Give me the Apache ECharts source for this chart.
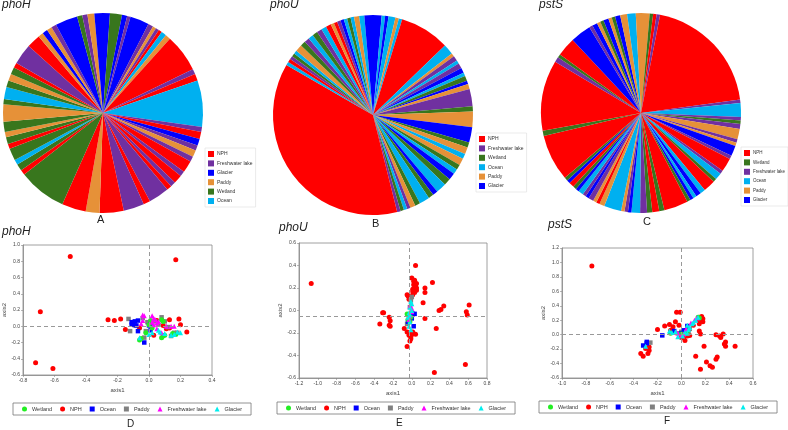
<!DOCTYPE html>
<html>
<head>
<meta charset="utf-8">
<script src="https://cdn.jsdelivr.net/npm/echarts@6/dist/echarts.min.js"></script>
<style>
html,body{margin:0;padding:0;background:#fff;}
#main{width:788px;height:430px;}
</style>
</head>
<body>
<div id="main"></div>
<script>
// clade codes around each tree, clockwise from 12 o'clock, and their arc (degrees)
var phoHClade = ['G','W','G','F','G','F','P','F','N','O','P','N','F','N','O','F','N','G','F','P','F','N','F','N','F','N','F','N','F','N','P','N','W',
                 'N','W','O','W','N','W','P','W','P','W','O','W','P','W','N','F','N','P','G','P','F','G','W','F','P','G'];
var phoHArc = [4,7,3,2,11,3,2,2,2,3,3,22,3,4,27,3,4,4,3,4,3,7,3,5,3,3,12,4,12,14,8,14,28,
               3,4,3,7,3,4,3,6,10,3,7,4,4,4,3,12,8,3,3,3,3,13,3,3,4,5];

var phoUClade = ['G','O','G','O','P','O','N','O','P','F','O','F','G','O','W','G','P','F','W','P','G','W','P','O','P','W','O','G','W','O','G','W','O','W','P','F','O','W','F',
                 'N','O','N','F','W','O','P','W','F','O','W','F','O','N','P','N','F','G','O','W','O','P','O','G'];
var phoUArc = [5,2,2,4,2,2,29,6,2,3,2,3,3,2,3,2,3,10,3,9,9,3,4,3,4,3,3,4,4,6,3,3,6,3,3,2,2,2,2,
               134,2,2,2,2,2,4,3,3,3,3,3,3,3,2,2,2,2,2,2,2,3,3,5];

var pstSClade = ['P','W','N','F','N','F','O','F','W','F','P','F','P','G','F','N','F','O','W','N','O','G','O','G','W','N','W','N','W','F','O','G','F','P','O',
                 'P','N','P','F','G','F','O','G','W','N','G','W','N','W','N','F','W','N','G','F','G','P','W','G','P','W','G','P','O','P'];
var pstSArc = [5,2,2,2,71,2,8,2,2,3,6,2,2,6,2,8,2,4,2,7,3,3,2,2,2,14,3,4,3,4,5,2,2,2,10,
               3,2,2,3,2,2,3,2,2,3,2,2,27,3,41,3,2,11,12,2,3,2,2,3,2,2,3,4,5,3];

// ordination scores [axis1, axis2]
var phoHNPH = [[-0.50,0.86],[0.17,0.82],[-0.69,0.18],[-0.72,-0.45],[-0.61,-0.52],[-0.26,0.08],[-0.22,0.07],[-0.18,0.09],[-0.15,-0.04],[-0.06,-0.02],
               [0.00,0.04],[0.13,0.08],[0.19,0.09],[0.20,0.02],[0.24,-0.07],[0.11,-0.03],[0.13,-0.02],[0.03,-0.11],[0.09,0.01],[0.05,0.07]];
var phoHWetland = [[-0.06,-0.17],[-0.05,-0.15],[0.01,0.07],[0.00,0.02],[-0.02,-0.08],[0.08,0.08],[0.09,0.06],[0.08,-0.14],[0.09,-0.12],[0.10,-0.11],[0.15,-0.09],[0.02,-0.02],[0.17,-0.10]];
var phoHOcean = [[-0.11,0.05],[-0.10,0.03],[-0.09,0.06],[-0.07,0.07],[-0.08,0.01],[-0.07,-0.06],[-0.03,-0.20],[0.01,-0.05],[0.01,0.03],[0.00,0.01],[-0.11,0.02]];
var phoHPaddy = [[-0.13,0.09],[-0.12,-0.06],[-0.09,0.01],[-0.03,-0.14],[0.08,0.11],[0.10,0.06],[0.04,0.06],[-0.01,0.05],[0.14,-0.12],[0.16,-0.08],[0.18,-0.08],[0.06,0.02],[-0.02,-0.06],[0.12,-0.01],[-0.04,0.10]];
var phoHFresh = [[-0.04,0.14],[-0.03,0.13],[-0.04,0.07],[-0.05,0.03],[0.02,0.13],[0.03,0.10],[0.04,0.08],[0.05,0.04],[0.03,0.02],[0.06,0.06],[0.08,-0.08],[0.11,0.00],[0.14,0.00],[0.16,0.00],[0.05,-0.03],[0.02,0.05]];
var phoHGlacier = [[-0.06,-0.14],[0.00,-0.10],[0.06,-0.05],[0.07,-0.07],[0.10,-0.09],[0.16,-0.10],[0.18,-0.07],[0.20,-0.08],[0.14,-0.11],[0.02,-0.08]];

var phoUNPH = [[-1.07,0.24],[0.04,0.40],[0.22,0.25],[0.14,0.20],[0.14,0.16],[0.12,0.07],[0.14,-0.07],[0.34,0.04],[0.29,0.00],[0.31,0.01],[0.26,-0.16],[0.24,-0.55],
               [0.57,-0.48],[0.58,-0.01],[0.61,0.05],[0.59,-0.04],[-0.31,-0.02],[-0.30,-0.02],[-0.34,-0.12],[-0.24,-0.06],[-0.23,-0.09],[-0.24,-0.13],[-0.23,-0.14],
               [-0.05,-0.32],[-0.08,-0.16],[-0.05,-0.19],[0.00,0.29],[0.03,0.27],[0.02,0.23],[0.04,0.21],[0.05,0.18],[0.01,0.17],[0.01,0.14],[-0.02,0.12],[-0.05,0.14],
               [0.05,0.24],[0.02,0.26],[0.04,0.22],[0.01,0.19],[0.05,0.20],[0.03,0.16],[-0.03,0.10],[-0.04,0.13],[0.03,0.25],[-0.02,-0.20],[-0.01,-0.25],[-0.02,-0.27],
               [0.04,-0.21],[0.01,-0.19],[-0.03,-0.22],[0.00,-0.21],[-0.01,-0.23]];
var phoUPaddy = [[0.00,0.12],[-0.01,0.09],[-0.04,-0.11],[-0.03,-0.09],[0.00,-0.02],[-0.05,-0.12],[-0.02,0.03]];
var phoUFresh = [[-0.02,0.04],[0.00,0.02],[-0.03,-0.05],[-0.01,0.06],[-0.03,-0.08],[0.00,-0.01]];
var phoUGlacier = [[-0.01,0.08],[0.00,0.06],[-0.02,0.03],[-0.03,-0.02],[-0.04,-0.06],[-0.02,-0.10],[-0.03,-0.14],[-0.01,-0.17],[-0.02,-0.04],[0.00,0.00]];
var phoUOcean = [[0.01,-0.03],[0.03,-0.03],[0.00,-0.07],[0.02,-0.14],[-0.04,-0.10]];
var phoUWetland = [[-0.05,-0.03],[-0.04,-0.08],[-0.02,-0.10],[-0.01,-0.06]];

var pstSNPH = [[-0.75,0.95],[-0.20,0.07],[-0.14,0.12],[-0.10,0.14],[-0.07,0.11],[-0.04,0.31],[-0.01,0.31],[-0.05,0.18],[-0.02,0.13],[-0.09,0.06],[0.00,-0.04],
               [0.03,-0.08],[0.07,-0.01],[0.10,0.13],[0.15,0.15],[0.17,0.25],[0.18,0.22],[0.15,0.24],[0.14,0.21],[0.18,0.18],[0.15,0.05],[0.16,0.01],[0.19,-0.16],
               [0.12,-0.30],[0.21,-0.38],[0.24,-0.43],[0.26,-0.45],[0.16,-0.48],[0.30,-0.31],[0.29,-0.34],[0.29,0.00],[0.32,-0.02],[0.33,-0.04],[0.35,0.01],
               [0.37,-0.10],[0.36,-0.13],[0.37,-0.16],[0.45,-0.16],[-0.34,-0.26],[-0.32,-0.30],[-0.30,-0.19],[-0.27,-0.22],[-0.27,-0.17],[-0.28,-0.26],
               [0.05,-0.02],[0.02,-0.04],[0.17,0.20]];
var pstSOcean = [[-0.32,-0.15],[-0.29,-0.12],[-0.29,-0.10],[-0.16,-0.01],[0.00,0.02],[0.05,0.12],[0.02,0.06],[-0.06,0.05]];
var pstSPaddy = [[-0.26,-0.11],[0.04,0.06],[0.06,0.04],[0.07,0.08],[0.00,0.04],[-0.02,0.02]];
var pstSGlacier = [[-0.30,-0.16],[-0.10,0.05],[-0.08,0.03],[-0.05,0.04],[0.03,0.03],[0.05,0.02],[0.06,0.07],[0.07,0.10],[0.05,0.13],[0.09,0.15],[0.10,0.17],[0.14,0.24],[0.12,0.20],[0.01,-0.02],[-0.03,-0.03]];
var pstSFresh = [[0.08,0.16],[0.11,0.20],[0.13,0.23],[-0.03,0.02],[0.00,-0.01],[0.04,0.08],[0.02,0.01]];
var pstSWetland = [[0.14,0.24],[0.15,0.23],[-0.09,0.02],[0.00,0.01],[0.05,0.05]];

var FONT = 'Liberation Sans, Arial, sans-serif';
var groupName = {N:'NPH', F:'Freshwater lake', G:'Glacier', P:'Paddy', W:'Wetland', O:'Ocean'};
var treeColor = {N:'#ff0000', F:'#7030a0', G:'#0000ff', P:'#e69138', W:'#38761d', O:'#00b0f0'};
var dotStyle = {
    'Wetland':        {symbol:'circle',   color:'#22ee22', size:5},
    'NPH':            {symbol:'circle',   color:'#ff0000', size:5},
    'Ocean':          {symbol:'rect',     color:'#0000ff', size:4.5},
    'Paddy':          {symbol:'rect',     color:'#808080', size:4.5},
    'Freshwater lake':{symbol:'triangle', color:'#ff00ff', size:5},
    'Glacier':        {symbol:'triangle', color:'#00eeee', size:5}
};
var legendOrder = ['Wetland','NPH','Ocean','Paddy','Freshwater lake','Glacier'];

function tree(clade, arc, center){
    var data = [];
    for (var i = 0; i < clade.length; i++) {
        data.push({name: groupName[clade[i]], value: arc[i], itemStyle: {color: treeColor[clade[i]]}});
    }
    return {
        type: 'pie', center: center, radius: [0, 100], startAngle: 90, clockwise: true,
        silent: true, animation: false, avoidLabelOverlap: false,
        label: {show: false}, labelLine: {show: false},
        itemStyle: {borderWidth: 0}, emphasis: {disabled: true},
        data: data
    };
}

function treeLegend(order, left, top, fs){
    return {
        orient: 'vertical', left: left, top: top, selectedMode: false,
        itemWidth: 6, itemHeight: 6, itemGap: 3.4, padding: [3, 3, 3, 3],
        borderColor: '#dddddd', borderWidth: 0.6, backgroundColor: '#fff',
        textStyle: {fontSize: fs, color: '#333', fontFamily: FONT, padding: [0, 0, 0, -2]},
        data: order.map(function (c) {
            return {name: groupName[c], icon: 'rect', itemStyle: {color: treeColor[c]}};
        })
    };
}

function dotLegend(left, top){
    return {
        orient: 'horizontal', left: left, top: top, width: 260, selectedMode: false,
        itemWidth: 5, itemHeight: 5, itemGap: 8, padding: [3, 9],
        borderColor: '#777', borderWidth: 0.8,
        textStyle: {fontSize: 5.5, color: '#333', fontFamily: FONT},
        data: legendOrder.map(function (n) {
            return {name: n, icon: dotStyle[n].symbol, itemStyle: {color: dotStyle[n].color}};
        })
    };
}

function tick(v){
    if (Math.abs(v) < 1e-9) return '0.0';
    return v.toFixed(1);
}

function axes(idx, min, max, name, vertical){
    return {
        gridIndex: idx, type: 'value', min: min, max: max, interval: 0.2,
        name: name, nameLocation: 'middle', nameGap: vertical ? 15 : 12,
        nameTextStyle: {fontSize: 6, color: '#444', fontFamily: FONT},
        axisLine: {onZero: false, lineStyle: {color: '#888', width: 0.8}},
        axisTick: {show: true, length: 2, lineStyle: {color: '#888', width: 0.6}},
        axisLabel: {fontSize: 5, color: '#444', margin: 3, fontFamily: FONT, formatter: tick},
        splitLine: {show: false}
    };
}

function dots(idx, sets, cross){
    var list = [];
    ['NPH','Paddy','Ocean','Wetland','Freshwater lake','Glacier'].forEach(function (n, k) {
        var st = dotStyle[n];
        var s = {
            type: 'scatter', name: n, xAxisIndex: idx, yAxisIndex: idx,
            symbol: st.symbol, symbolSize: st.size, animation: false, silent: true,
            itemStyle: {color: st.color, opacity: 1},
            data: sets[n]
        };
        if (k === 0) {
            s.markLine = {
                silent: true, symbol: 'none', animation: false, label: {show: false},
                lineStyle: {type: [4, 3], color: '#999', width: 1},
                data: [{xAxis: cross[0]}, {yAxis: cross[1]}]
            };
        }
        list.push(s);
    });
    return list;
}

function label(text, left, top, size, italic){
    return {
        text: text, left: left, top: top, padding: 0,
        textStyle: {fontSize: size, fontStyle: italic ? 'italic' : 'normal', fontWeight: 'normal', color: '#222', fontFamily: FONT}
    };
}

var chart = echarts.init(document.getElementById('main'), null, {renderer: 'canvas'});

var option = {
    backgroundColor: '#fff',
    animation: false,
    title: [
        label('phoH', 2, -1, 12, true), label('phoU', 270, -1, 12, true), label('pstS', 539, -1, 12, true),
        label('A', 97, 214, 11), label('B', 372, 218, 11), label('C', 643, 216, 11),
        label('phoH', 2, 226, 12, true), label('phoU', 279, 222, 12, true), label('pstS', 548, 219, 12, true),
        label('D', 127, 419, 10), label('E', 396, 418, 10), label('F', 664, 416, 10)
    ],
    legend: [
        treeLegend(['N','F','G','P','W','O'], 205, 148, 5),
        treeLegend(['N','F','W','O','P','G'], 476, 133, 5),
        treeLegend(['N','W','F','O','P','G'], 741, 147, 4.5),
        dotLegend(13, 403),
        dotLegend(277, 402),
        dotLegend(539, 401)
    ],
    grid: [
        {left: 23, top: 245, width: 189, height: 130, show: true, borderColor: '#888', borderWidth: 0.8, outerBoundsMode: 'none'},
        {left: 299, top: 243, width: 188, height: 135, show: true, borderColor: '#888', borderWidth: 0.8, outerBoundsMode: 'none'},
        {left: 562, top: 248, width: 191, height: 130, show: true, borderColor: '#888', borderWidth: 0.8, outerBoundsMode: 'none'}
    ],
    xAxis: [
        axes(0, -0.8, 0.4, 'axis1', false),
        axes(1, -1.2, 0.8, 'axis1', false),
        axes(2, -1.0, 0.6, 'axis1', false)
    ],
    yAxis: [
        axes(0, -0.6, 1.0, 'axis2', true),
        axes(1, -0.6, 0.6, 'axis2', true),
        axes(2, -0.6, 1.2, 'axis2', true)
    ],
    series: [].concat(
        [tree(phoHClade, phoHArc, [103, 113]),
         tree(phoUClade, phoUArc, [373, 115]),
         tree(pstSClade, pstSArc, [641, 113])],
        dots(0, {'NPH': phoHNPH, 'Paddy': phoHPaddy, 'Ocean': phoHOcean, 'Wetland': phoHWetland, 'Freshwater lake': phoHFresh, 'Glacier': phoHGlacier}, [0, 0]),
        dots(1, {'NPH': phoUNPH, 'Paddy': phoUPaddy, 'Ocean': phoUOcean, 'Wetland': phoUWetland, 'Freshwater lake': phoUFresh, 'Glacier': phoUGlacier}, [-0.03, -0.05]),
        dots(2, {'NPH': pstSNPH, 'Paddy': pstSPaddy, 'Ocean': pstSOcean, 'Wetland': pstSWetland, 'Freshwater lake': pstSFresh, 'Glacier': pstSGlacier}, [0, 0])
    )
};

chart.setOption(option);
</script>
</body>
</html>
